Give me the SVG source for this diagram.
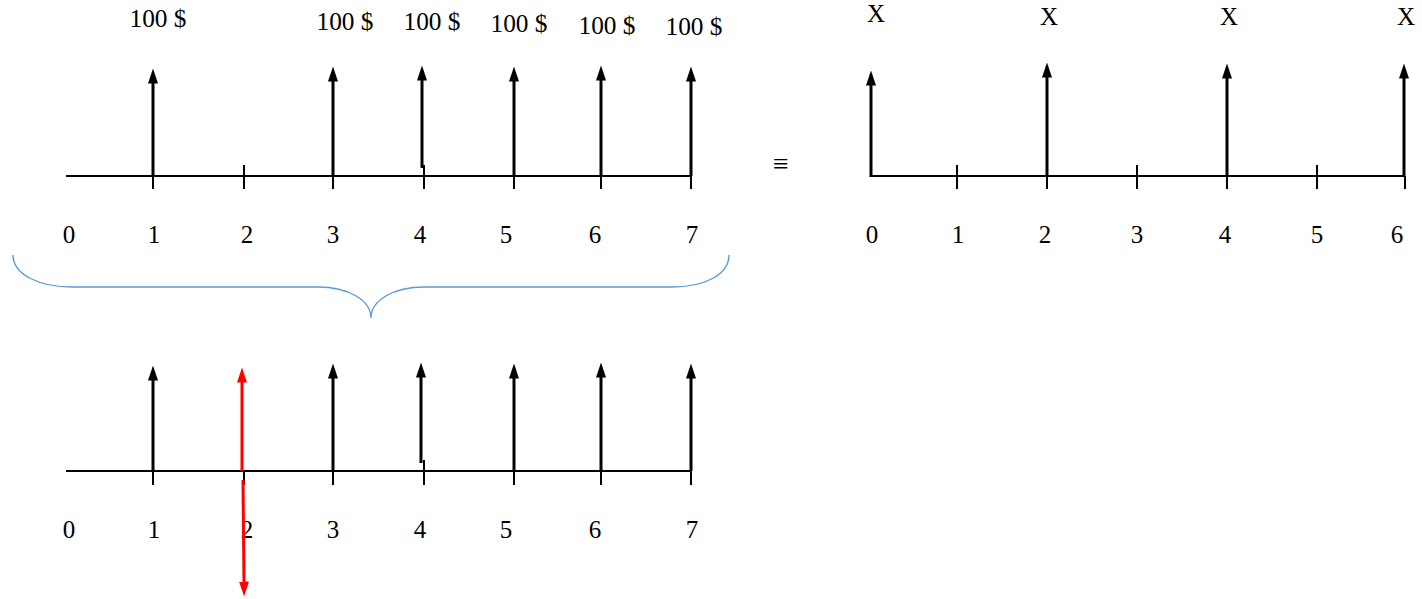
<svg xmlns="http://www.w3.org/2000/svg" width="1422" height="599" viewBox="0 0 1422 599">
<style>
text{font-family:"Liberation Serif","Times New Roman",serif;font-size:25px;fill:#000;text-anchor:middle}
.ax{stroke:#000;stroke-width:2;fill:none}
.tk{stroke:#000;stroke-width:2}
.ar{stroke:#000;stroke-width:3;marker-end:url(#ah)}
.red{stroke:#ff0000;stroke-width:3;marker-end:url(#rh)}
.brace{stroke:#5b9bd5;stroke-width:1.4;fill:none}
</style>
<defs>
<marker id="ah" markerUnits="userSpaceOnUse" viewBox="0 0 15 10" markerWidth="15" markerHeight="10" refX="0.5" refY="5" orient="auto">
<path d="M0,0 L15,5 L0,10 Z" fill="#000"/>
</marker>
<marker id="rh" markerUnits="userSpaceOnUse" viewBox="0 0 15 10" markerWidth="15" markerHeight="10" refX="0.5" refY="5" orient="auto">
<path d="M0,0 L15,5 L0,10 Z" fill="#ff0000"/>
</marker>
</defs>
<g id="top-timeline">
<line class="ax" x1="66" y1="176" x2="691" y2="176"/>
<line class="tk" x1="153" y1="176" x2="153" y2="189"/>
<line class="tk" x1="244" y1="165" x2="244" y2="189"/>
<line class="tk" x1="333" y1="176" x2="333" y2="189"/>
<line class="tk" x1="424" y1="165" x2="424" y2="189"/>
<line class="tk" x1="514" y1="176" x2="514" y2="189"/>
<line class="tk" x1="601" y1="176" x2="601" y2="189"/>
<line class="tk" x1="691" y1="176" x2="691" y2="189"/>
<text x="69" y="243">0</text><text x="154" y="243">1</text><text x="247" y="243">2</text><text x="333" y="243">3</text><text x="420" y="243">4</text><text x="506" y="243">5</text><text x="595" y="243">6</text><text x="692" y="243">7</text>
<text x="158" y="27" textLength="57" lengthAdjust="spacingAndGlyphs">100 $</text>
<text x="345" y="30" textLength="57" lengthAdjust="spacingAndGlyphs">100 $</text>
<text x="432" y="30" textLength="57" lengthAdjust="spacingAndGlyphs">100 $</text>
<text x="519" y="32" textLength="57" lengthAdjust="spacingAndGlyphs">100 $</text>
<text x="607" y="34" textLength="57" lengthAdjust="spacingAndGlyphs">100 $</text>
<text x="694" y="35" textLength="57" lengthAdjust="spacingAndGlyphs">100 $</text>
</g>
<g id="top-arrows">
<line class="ar" x1="153" y1="176" x2="153" y2="83"/>
<line class="ar" x1="333" y1="176" x2="333" y2="81"/>
<line class="ar" x1="422" y1="168" x2="422" y2="80"/>
<line class="ar" x1="514" y1="176" x2="514" y2="81"/>
<line class="ar" x1="601" y1="176" x2="601" y2="80"/>
<line class="ar" x1="691" y1="176" x2="691" y2="81"/>
</g>
<g id="equiv"><text x="781" y="173" style="font-size:28px">≡</text></g>
<g id="right-timeline">
<line class="ax" x1="870" y1="176" x2="1405" y2="176"/>
<line class="tk" x1="957" y1="165" x2="957" y2="189"/>
<line class="tk" x1="1047" y1="176" x2="1047" y2="189"/>
<line class="tk" x1="1137" y1="165" x2="1137" y2="189"/>
<line class="tk" x1="1227" y1="176" x2="1227" y2="189"/>
<line class="tk" x1="1317" y1="165" x2="1317" y2="189"/>
<line class="tk" x1="1405" y1="176" x2="1405" y2="189"/>
<text x="872" y="243">0</text><text x="958" y="243">1</text><text x="1045" y="243">2</text><text x="1137" y="243">3</text><text x="1225" y="243">4</text><text x="1317" y="243">5</text><text x="1397" y="243">6</text>
<text x="876" y="22">X</text><text x="1049" y="25">X</text><text x="1229" y="25">X</text><text x="1406" y="25">X</text>
</g>
<g id="right-arrows">
<line class="ar" x1="871" y1="177" x2="871" y2="85"/>
<line class="ar" x1="1047" y1="176" x2="1047" y2="77"/>
<line class="ar" x1="1227" y1="176" x2="1227" y2="78"/>
<line class="ar" x1="1404" y1="176" x2="1404" y2="78"/>
</g>
<g id="brace">
<path class="brace" d="M13,255 C13,275 40,287 72,287 L318,287 C348,287 371,300 371,318 C371,300 394,287 424,287 L672,287 C704,287 729,275 729,255"/>
</g>
<g id="bottom-timeline">
<line class="ax" x1="66" y1="471" x2="691" y2="471"/>
<line class="tk" x1="153" y1="471" x2="153" y2="485"/>
<line class="tk" x1="244" y1="471" x2="244" y2="485"/>
<line class="tk" x1="333" y1="471" x2="333" y2="485"/>
<line class="tk" x1="424" y1="460" x2="424" y2="485"/>
<line class="tk" x1="514" y1="471" x2="514" y2="485"/>
<line class="tk" x1="601" y1="471" x2="601" y2="485"/>
<line class="tk" x1="691" y1="471" x2="691" y2="485"/>
<text x="69" y="538">0</text><text x="154" y="538">1</text><text x="247" y="538">2</text><text x="333" y="538">3</text><text x="420" y="538">4</text><text x="506" y="538">5</text><text x="595" y="538">6</text><text x="692" y="538">7</text>
</g>
<g id="bottom-arrows">
<line class="ar" x1="153" y1="471" x2="153" y2="380"/>
<line class="ar" x1="333" y1="471" x2="333" y2="378"/>
<line class="ar" x1="421" y1="463" x2="421" y2="377"/>
<line class="ar" x1="514" y1="471" x2="514" y2="378"/>
<line class="ar" x1="601" y1="471" x2="601" y2="377"/>
<line class="ar" x1="691" y1="471" x2="691" y2="378"/>
</g>
<g id="red-arrows">
<line class="red" x1="242" y1="471" x2="242" y2="382"/>
<line class="red" x1="243" y1="480" x2="244" y2="582"/>
</g>
</svg>
